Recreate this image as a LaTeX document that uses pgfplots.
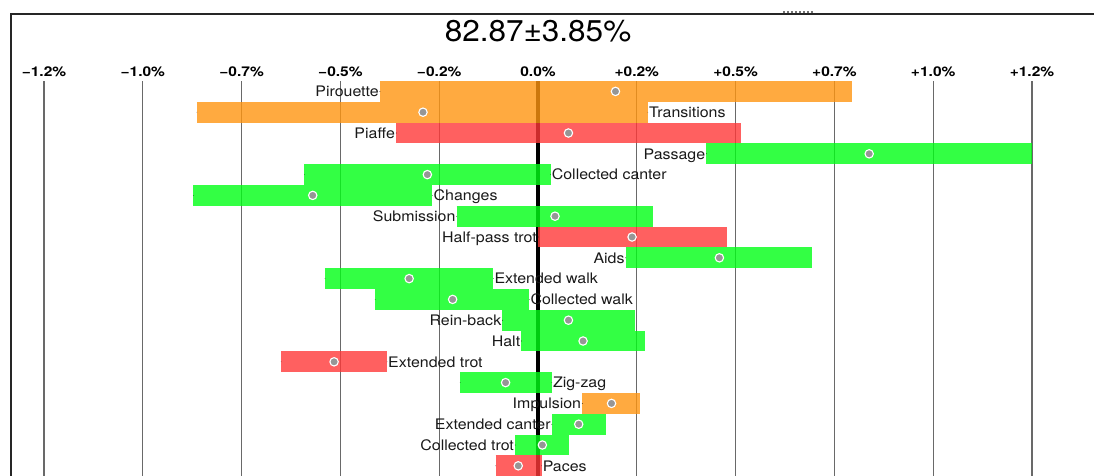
\documentclass[border=0pt]{standalone}
\usepackage{pgfplots}
\pgfplotsset{compat=1.18}
\usepackage{pgfplotstable}
\usepackage{graphicx}
\usepackage{fontspec}
\setmainfont{TeX Gyre Heros}

\definecolor{cgreen}{RGB}{0,255,21}
\definecolor{cred}{RGB}{255,56,56}
\definecolor{corange}{RGB}{255,149,16}
\definecolor{gridc}{RGB}{105,105,105}
\definecolor{dotc}{RGB}{150,150,150}

% c: 1 = orange, 2 = red, 3 = green;  s: 1 = label left of bar, 2 = label right of bar
\pgfplotstableread[col sep=comma]{
row,lo,hi,dot,s,c,name
0,-0.400,0.794,0.196,1,1,Pirouette
1,-0.863,0.278,-0.291,2,1,Transitions
2,-0.359,0.514,0.077,1,2,Piaffe
3,0.426,1.251,0.838,1,3,Passage
4,-0.591,0.032,-0.280,2,3,Collected canter
5,-0.872,-0.267,-0.570,2,3,Changes
6,-0.206,0.291,0.043,1,3,Submission
7,0.000,0.478,0.238,1,2,Half-pass trot
8,0.222,0.694,0.459,1,3,Aids
9,-0.539,-0.113,-0.326,2,3,Extended walk
10,-0.412,-0.022,-0.216,2,3,Collected walk
11,-0.090,0.246,0.077,1,3,Rein-back
12,-0.042,0.270,0.114,1,3,Halt
13,-0.650,-0.382,-0.516,2,2,Extended trot
14,-0.197,0.035,-0.082,2,3,Zig-zag
15,0.112,0.259,0.186,1,1,Impulsion
16,0.035,0.173,0.103,1,3,Extended canter
17,-0.058,0.079,0.011,1,3,Collected trot
18,-0.107,0.009,-0.050,2,2,Paces
}\data

\newcommand{\tklab}[1]{\scalebox{1.15}[1]{#1}}

\pgfplotsset{
  invisible marks/.style={
    only marks, mark=*, mark size=0.01pt, mark options={draw=none, fill=none}, forget plot
  },
  floatbar/.style={
    invisible marks,
    error bars/x dir=plus, error bars/x explicit, error bars/error mark=none,
    error bars/error bar style={line width=20.8pt, draw=#1, draw opacity=0.8, line cap=butt}
  },
  barlabel/.style={
    invisible marks,
    point meta=explicit symbolic,
    nodes near coords={\scalebox{1.1}[1]{\pgfplotspointmeta}},
    every node near coord/.append style={anchor=#1, yshift=-5.3pt, inner sep=1pt,
      text=black!90, font=\fontsize{14.5}{16}\selectfont}
  }
}

\begin{document}
\begin{tikzpicture}
\path[use as bounding box] (0pt,0pt) rectangle (1094pt,-476pt);
\clip (0pt,0pt) rectangle (1094pt,-476pt);

\draw[line width=2pt, black!85] (11pt,-480pt) -- (11pt,-14pt) -- (1100pt,-14pt);
\draw[dash pattern=on 2pt off 2pt, line width=1.2pt, black!55] (783pt,-12pt) -- (813pt,-12pt);

\node[anchor=base, font=\fontsize{30}{36}\selectfont] at (538pt,-41.7pt)
  {\scalebox{1.05}[1]{82.87±3.85\%}};

\begin{axis}[
  at={(0pt,-81pt)}, anchor=north west,
  scale only axis, width=1094pt, height=395pt,
  xmin=-1.36134, xmax=1.40688,
  ymin=-0.5, ymax=18.4904, y dir=reverse,
  axis line style={draw=none},
  xtick={-1.25,-1,-0.75,-0.5,-0.25,0,0.25,0.5,0.75,1,1.25},
  xticklabels={{\tklab{−1.2\%}},{\tklab{−1.0\%}},{\tklab{−0.7\%}},{\tklab{−0.5\%}},{\tklab{−0.2\%}},{\tklab{0.0\%}},{\tklab{+0.2\%}},{\tklab{+0.5\%}},{\tklab{+0.7\%}},{\tklab{+1.0\%}},{\tklab{+1.2\%}}},
  xticklabel pos=upper,
  ytick=\empty,
  major tick length=0pt,
  xmajorgrids,
  grid style={gridc, line width=1.2pt},
  xticklabel style={font=\bfseries\fontsize{13.5}{15}\selectfont, inner sep=0pt, anchor=base},
  xticklabel shift=4.3pt,
  clip=false,
]
\addplot[black, line width=4pt, forget plot] coordinates {(0,-0.5) (0,18.4904)};

\addplot[floatbar=corange, restrict expr to domain={\thisrow{c}}{1:1}] table[x=lo, y=row, x error expr=\thisrow{hi}-\thisrow{lo}] {\data};
\addplot[floatbar=cred, restrict expr to domain={\thisrow{c}}{2:2}] table[x=lo, y=row, x error expr=\thisrow{hi}-\thisrow{lo}] {\data};
\addplot[floatbar=cgreen, restrict expr to domain={\thisrow{c}}{3:3}] table[x=lo, y=row, x error expr=\thisrow{hi}-\thisrow{lo}] {\data};

\addplot[only marks, mark=*, mark size=4.2pt, forget plot,
  mark options={fill=dotc, draw=white, line width=1.1pt}] table[x=dot, y=row] {\data};

\addplot[barlabel=base east, restrict expr to domain={\thisrow{s}}{1:1}] table[x=lo, y=row, meta=name] {\data};
\addplot[barlabel=base west, restrict expr to domain={\thisrow{s}}{2:2}] table[x=hi, y=row, meta=name] {\data};
\end{axis}
\end{tikzpicture}
\end{document}
